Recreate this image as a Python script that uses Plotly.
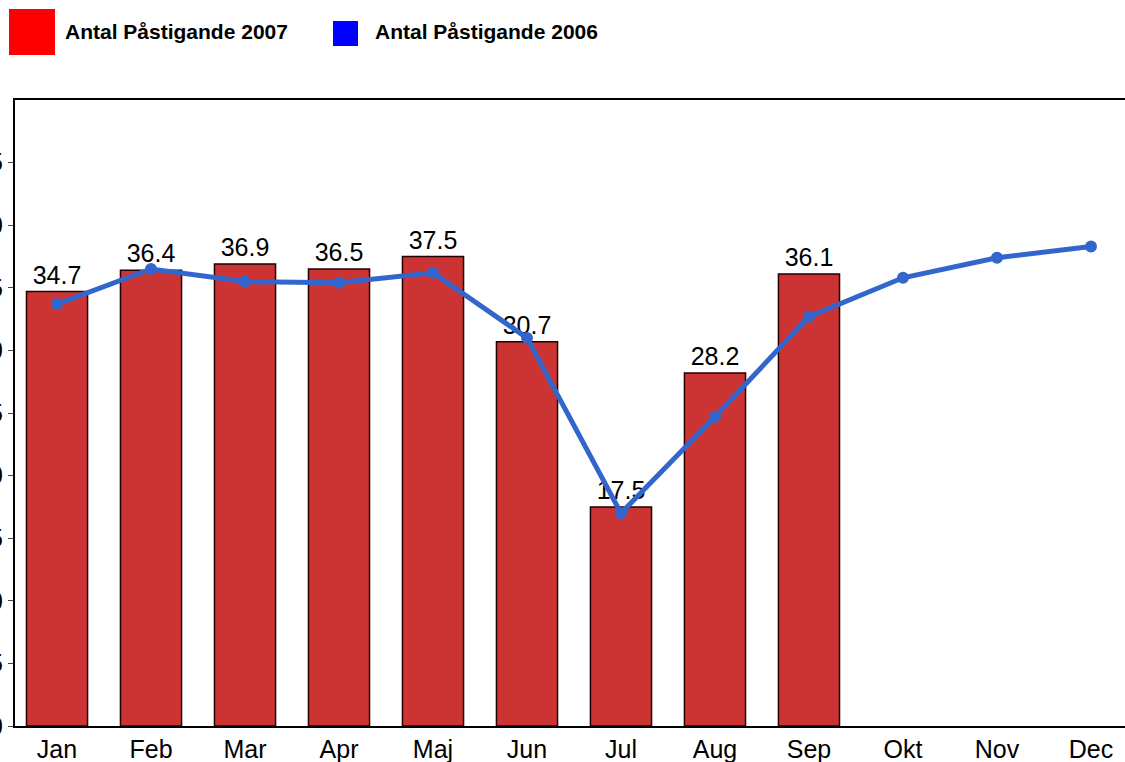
import plotly.graph_objects as go

months = ["Jan", "Feb", "Mar", "Apr", "Maj", "Jun", "Jul", "Aug", "Sep", "Okt", "Nov", "Dec"]
bar_months = months[:9]
values_2007 = [34.7, 36.4, 36.9, 36.5, 37.5, 30.7, 17.5, 28.2, 36.1]
values_2006 = [33.7, 36.5, 35.5, 35.4, 36.2, 31.0, 17.0, 24.7, 32.7, 35.8, 37.4, 38.3]
y_ticks = [0, 5, 10, 15, 20, 25, 30, 35, 40, 45]

FONT = "Liberation Sans, Arial, Helvetica, sans-serif"

fig = go.Figure()
fig.add_trace(go.Bar(
    x=bar_months, y=values_2007, name="Antal Påstigande 2007",
    marker=dict(color="#CC3333", line=dict(color="#220000", width=1.5)),
    width=0.65,
    text=[f"{v:.1f}" for v in values_2007], textposition="outside",
    textfont=dict(family=FONT, size=25, color="black"),
    cliponaxis=False, showlegend=False,
))
fig.add_trace(go.Scatter(
    x=months, y=values_2006, name="Antal Påstigande 2006",
    mode="lines+markers",
    line=dict(color="#3366CC", width=5),
    marker=dict(color="#3366CC", size=12),
    showlegend=False,
))

W, H = 1125, 762
l, r, t, b = 15, 0, 100, 36
pw, ph = W - l - r, H - t - b
def px(x):
    return (x - l) / pw
def py(y):
    return (H - b - y) / ph

# custom legend
fig.add_shape(type="rect", xref="paper", yref="paper",
              x0=px(9), x1=px(55), y0=py(55), y1=py(9),
              fillcolor="#FF0000", line=dict(width=0))
fig.add_shape(type="rect", xref="paper", yref="paper",
              x0=px(333), x1=px(358), y0=py(46), y1=py(21),
              fillcolor="#0000FF", line=dict(width=0))
fig.add_annotation(xref="paper", yref="paper", x=px(63), y=py(32),
                   text="<b>Antal Påstigande 2007</b>", showarrow=False,
                   xanchor="left", yanchor="middle",
                   font=dict(family=FONT, size=21, color="black"))
fig.add_annotation(xref="paper", yref="paper", x=px(373), y=py(32),
                   text="<b>Antal Påstigande 2006</b>", showarrow=False,
                   xanchor="left", yanchor="middle",
                   font=dict(family=FONT, size=21, color="black"))

fig.update_layout(
    width=W, height=H,
    margin=dict(l=l, r=r, t=t, b=b, autoexpand=False),
    plot_bgcolor="white", paper_bgcolor="white",
    font=dict(family=FONT, size=25, color="black"),
    showlegend=False,
)
fig.update_xaxes(
    type="category", categoryorder="array", categoryarray=months,
    range=[-0.447, 11.362],
    showline=True, linecolor="black", linewidth=2, mirror=True,
    showgrid=False, ticks="", tickfont=dict(family=FONT, size=25),
)
fig.update_yaxes(
    range=[0, 50], tickvals=y_ticks,
    showline=True, linecolor="black", linewidth=2, mirror=True,
    showgrid=False, zeroline=False, ticks="outside", ticklen=5,
    tickfont=dict(family=FONT, size=25),
)

fig.write_html("out.html", config={"displayModeBar": False},
               post_script="document.body.style.margin='0';document.body.style.overflow='hidden';")
